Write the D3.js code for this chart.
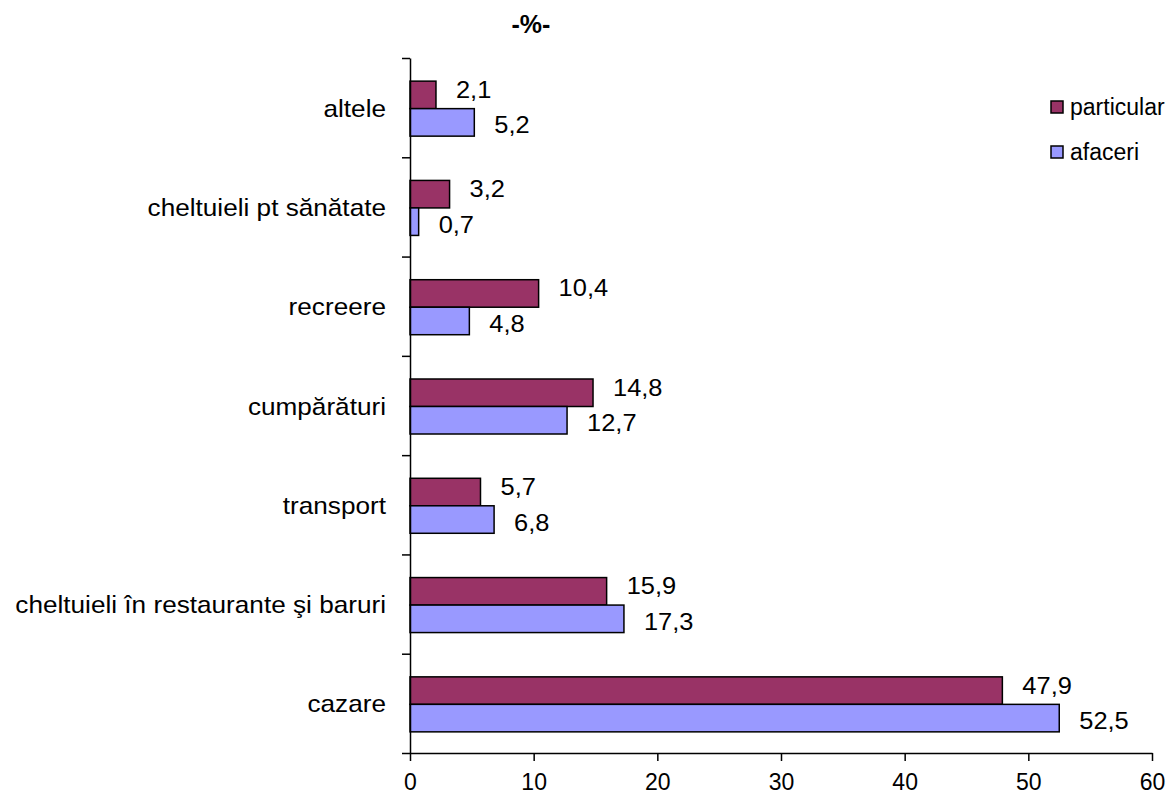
<!DOCTYPE html>
<html>
<head>
<meta charset="utf-8">
<script src="https://cdn.jsdelivr.net/npm/d3@7"></script>
<style>
  body { margin: 0; background: #fff; }
  svg text { font-family: "Liberation Sans", Arial, sans-serif; }
</style>
</head>
<body>
<div id="chart"></div>
<script>
// Chart data, top category first
const categories = ["altele", "cheltuieli pt sănătate", "recreere", "cumpărături", "transport", "cheltuieli în restaurante şi baruri", "cazare"];
const seriesNames = ["particular", "afaceri"];
const particular = [2.1, 3.2, 10.4, 14.8, 5.7, 15.9, 47.9];
const afaceri = [5.2, 0.7, 4.8, 12.7, 6.8, 17.3, 52.5];
const xTicks = [0, 10, 20, 30, 40, 50, 60];
const unitLabel = "-%-";

const colors = {particular: "#993366", afaceri: "#9999FF"};

const width = 1171, height = 796;
const plotLeft = 410, plotRight = 1152, plotTop = 58, plotBottom = 753; // "top" clashes with window.top

const svg = d3.select("#chart").append("svg")
    .attr("width", width)
    .attr("height", height);

svg.append("rect").attr("width", width).attr("height", height).attr("fill", "#fff");

const x = d3.scaleLinear().domain([0, 60]).range([plotLeft, plotRight]);
const y = d3.scaleBand().domain(categories).range([plotTop, plotBottom]);
const groupH = 55;
const inner = d3.scaleBand().domain(seriesNames)
    .range([y.bandwidth() / 2 - groupH / 2 + 1, y.bandwidth() / 2 + groupH / 2 + 1]);

// rows: one entry per category with both values
const rows = categories.map((c, i) => ({cat: c, particular: particular[i], afaceri: afaceri[i]}));

const groups = svg.selectAll("g.cat")
    .data(rows)
    .join("g")
    .attr("class", "cat")
    .attr("transform", d => `translate(0,${y(d.cat)})`);

groups.selectAll("rect")
    .data(d => seriesNames.map(s => ({s: s, v: d[s]})))
    .join("rect")
    .attr("x", x(0))
    .attr("y", d => inner(d.s))
    .attr("width", d => x(d.v) - x(0))
    .attr("height", inner.bandwidth())
    .attr("fill", d => colors[d.s])
    .attr("stroke", "#000")
    .attr("stroke-width", 1.5);

// value labels (Excel style, comma decimal); the original font is a bit wide, hence scaleX
const baseOff = {particular: 3, afaceri: 11};
groups.selectAll("text.val")
    .data(d => seriesNames.map(s => ({s: s, v: d[s]})))
    .join("text")
    .attr("class", "val")
    .attr("transform", d => `translate(${x(d.v) + 20},${inner(d.s) + inner.bandwidth() / 2 + baseOff[d.s]}) scale(1.06,1)`)
    .attr("font-size", 24)
    .text(d => d.v.toFixed(1).replace(".", ","));

// x axis
const xAxis = svg.append("g")
    .attr("transform", `translate(0,${plotBottom})`)
    .call(d3.axisBottom(x).tickValues(xTicks).tickSize(8).tickSizeOuter(0).tickPadding(13));
xAxis.selectAll("text").attr("font-size", 23).attr("fill", "#000").style("font-family", "'Liberation Sans', Arial, sans-serif");
xAxis.selectAll("line, path").attr("stroke", "#000").attr("stroke-width", 1.5);

// y axis: ticks on category boundaries
const yEdge = d3.scaleLinear().domain([0, categories.length]).range([plotBottom, plotTop]);
const yAxis = svg.append("g")
    .attr("transform", `translate(${plotLeft},0)`)
    .call(d3.axisLeft(yEdge).ticks(categories.length).tickSize(8).tickSizeOuter(0).tickFormat(""));
yAxis.selectAll("line, path").attr("stroke", "#000").attr("stroke-width", 1.5);

// category labels
svg.append("g")
    .selectAll("text")
    .data(categories)
    .join("text")
    .attr("transform", d => `translate(${plotLeft - 24},${y(d) + y.bandwidth() / 2 + 9}) scale(1.09,1)`)
    .attr("text-anchor", "end")
    .attr("font-size", 24)
    .text(d => d);

// unit label
svg.append("text")
    .attr("x", 531)
    .attr("y", 33)
    .attr("text-anchor", "middle")
    .attr("font-size", 25)
    .attr("font-weight", "bold")
    .text(unitLabel);

// legend
const legend = svg.append("g")
    .selectAll("g")
    .data(seriesNames)
    .join("g")
    .attr("transform", (d, i) => `translate(1051,${101 + i * 45})`);
legend.append("rect")
    .attr("width", 12)
    .attr("height", 12)
    .attr("fill", d => colors[d])
    .attr("stroke", "#000")
    .attr("stroke-width", 1.5);
legend.append("text")
    .attr("x", 19)
    .attr("y", 14)
    .attr("font-size", 23)
    .text(d => d);
</script>
</body>
</html>
